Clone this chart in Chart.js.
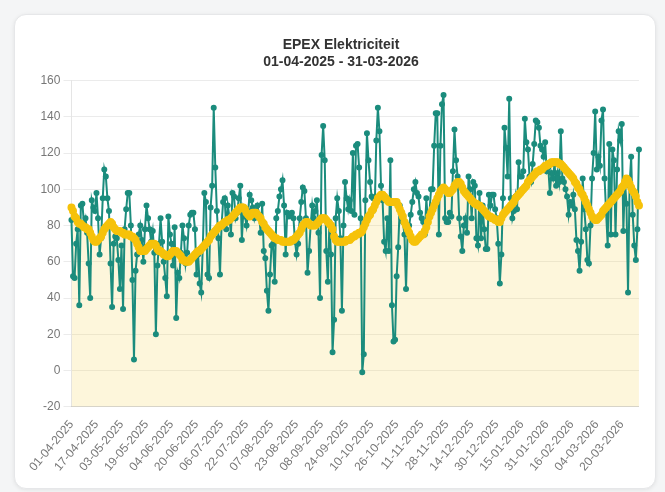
<!DOCTYPE html>
<html>
<head>
<meta charset="utf-8">
<script src="https://cdn.jsdelivr.net/npm/chart.js@4.4.1/dist/chart.umd.min.js"></script>
<style>
  html, body { margin: 0; padding: 0; width: 665px; height: 492px; background: #f4f5f6; overflow: hidden; }
  #card { position: absolute; left: 14px; top: 14px; width: 640px; height: 473px; background: #fff;
          border: 1px solid #e6e7e9; border-radius: 12px; box-shadow: 0 1px 4px rgba(0,0,0,0.08); }
  #wrap { position: absolute; left: 29px; top: 27px; width: 624px; height: 450px; }
</style>
</head>
<body>
<div id="card"></div>
<div id="wrap"><canvas id="c"></canvas></div>
<script>
// Title
const titleLines = ["EPEX Elektriciteit", "01-04-2025 - 31-03-2026"];

// Y axis ticks
const yTicks = { min: -20, max: 160, step: 20 };

// Categories: daily dates 01-04-2025 .. 31-03-2026 (one day absent in the source data)
const startDate = "2025-04-01";
const endDate = "2026-03-31";
const missingDates = ["22-11-2025"];
const labelEvery = 16;

// Daily price (teal)
const dailyPrice = [
  83, 52, 51, 70, 78, 36, 91, 92, 81, 84,
  76, 59, 40, 94, 90, 88, 98, 84, 64, 73,
  95, 111, 107, 95, 88, 59, 35, 70, 74, 73,
  61, 45, 69, 34, 78, 89, 98, 98, 80, 50,
  6, 55, 64, 75, 80, 72, 60, 78, 91, 84,
  78, 71, 77, 65, 20, 58, 70, 84, 71, 60,
  51, 41, 85, 75, 70, 58, 79, 29, 54, 51,
  65, 80, 73, 59, 65, 80, 86, 87, 87, 78,
  53, 64, 48, 43, 68, 98, 93, 53, 51, 90,
  102, 145, 112, 88, 73, 53, 80, 93, 95, 78,
  91, 85, 75, 98, 96, 84, 87, 95, 102, 72,
  89, 85, 80, 88, 97, 94, 90, 84, 88, 91,
  86, 76, 92, 66, 62, 44, 33, 53, 69, 70,
  49, 84, 88, 96, 100, 105, 91, 64, 87, 85,
  86, 87, 84, 71, 64, 70, 84, 93, 101, 99,
  84, 54, 66, 80, 91, 84, 88, 94, 76, 40,
  119, 135, 116, 66, 49, 82, 64, 10, 28, 84,
  95, 88, 73, 33, 80, 104, 95, 89, 94, 88,
  120, 86, 124, 125, 112, 84, -1, 9, 94, 131,
  116, 104, 96, 95, 91, 127, 145, 132, 102, 94,
  71, 66, 84, 66, 116, 36, 16, 17, 52, 68,
  91, 84, 82, 75, 45, 76, 80, 86, 93, 100,
  104, 98, 96, 87, 84, 82, 75, 95, 82, 87,
  100, 100, 124, 142, 142, 75, 124, 147, 152, 84,
  82, 82, 87, 85, 110, 133, 116, 107, 84, 74,
  66, 80, 84, 76, 107, 100, 84, 104, 102, 73,
  69, 98, 73, 91, 78, 67, 67, 97, 91, 97,
  97, 89, 84, 70, 48, 64, 95, 134, 123, 107,
  150, 95, 84, 88, 96, 89, 115, 107, 107, 110,
  139, 126, 122, 107, 104, 114, 125, 138, 137, 134,
  124, 122, 118, 126, 110, 112, 98, 109, 106, 114,
  102, 109, 104, 132, 106, 104, 100, 96, 86, 93,
  91, 97, 89, 72, 66, 55, 71, 106, 89, 78,
  61, 59, 80, 106, 120, 143, 111, 118, 113, 138,
  144, 106, 87, 69, 125, 75, 122, 116, 75, 111,
  132, 127, 136, 77, 105, 92, 43, 102, 118, 86,
  69, 61, 78, 122
];

// Moving average (yellow)
const averagePrice = [
  90, 88, 85, 84, 82, 81, 81, 80, 79, 79,
  78, 78, 76, 74, 72, 71, 71, 72, 73, 74,
  76, 78, 79, 80, 81, 82, 81, 79, 78, 77,
  77, 77, 76, 76, 75, 75, 75, 75, 74, 74,
  73, 72, 70, 68, 66, 66, 66, 66, 67, 68,
  69, 70, 70, 70, 69, 67, 66, 66, 65, 64,
  64, 63, 63, 64, 65, 66, 66, 66, 65, 64,
  63, 61, 61, 60, 60, 60, 61, 62, 63, 64,
  65, 66, 66, 67, 68, 69, 70, 71, 72, 74,
  75, 76, 77, 78, 79, 80, 80, 81, 82, 82,
  83, 83, 84, 85, 86, 87, 88, 89, 90, 90,
  90, 89, 87, 86, 85, 86, 87, 87, 87, 86,
  85, 84, 82, 81, 79, 78, 77, 76, 75, 74,
  73, 73, 72, 72, 72, 71, 71, 71, 71, 71,
  71, 72, 72, 73, 74, 75, 76, 78, 80, 81,
  82, 82, 81, 80, 80, 80, 80, 81, 82, 83,
  84, 84, 84, 83, 82, 81, 80, 78, 74, 72,
  71, 71, 71, 71, 71, 71, 72, 72, 72, 73,
  74, 74, 75, 75, 76, 76, 77, 79, 81, 83,
  85, 86, 88, 89, 91, 93, 95, 96, 97, 97,
  96, 95, 94, 93, 93, 93, 93, 93, 93, 91,
  89, 87, 85, 82, 80, 78, 76, 74, 72, 71,
  71, 72, 73, 74, 75, 75, 77, 79, 82, 85,
  87, 89, 91, 93, 95, 97, 99, 100, 101, 100,
  99, 98, 98, 99, 100, 102, 103, 104, 104, 103,
  101, 99, 98, 97, 96, 95, 94, 93, 92, 92,
  91, 91, 90, 89, 88, 87, 86, 85, 85, 84,
  84, 83, 83, 82, 82, 84, 86, 87, 88, 89,
  90, 91, 92, 93, 95, 96, 97, 98, 99, 100,
  101, 102, 104, 105, 106, 107, 108, 109, 110, 110,
  111, 111, 112, 113, 113, 114, 114, 115, 115, 115,
  115, 115, 114, 114, 113, 112, 111, 110, 109, 108,
  107, 106, 104, 103, 101, 100, 98, 97, 95, 93,
  91, 89, 87, 85, 84, 83, 83, 84, 85, 86,
  88, 89, 90, 91, 92, 93, 94, 95, 96, 97,
  98, 99, 101, 102, 104, 106, 105, 103, 101, 99,
  98, 96, 93, 91
];

function pad(n) { return (n < 10 ? "0" : "") + n; }
function buildLabels() {
  const out = [];
  const d = new Date(startDate + "T00:00:00Z");
  const end = new Date(endDate + "T00:00:00Z");
  while (d <= end) {
    const s = pad(d.getUTCDate()) + "-" + pad(d.getUTCMonth() + 1) + "-" + d.getUTCFullYear();
    if (missingDates.indexOf(s) < 0) out.push(s);
    d.setUTCDate(d.getUTCDate() + 1);
  }
  return out;
}
const labels = buildLabels();

Chart.defaults.font.family = "'Liberation Sans', Arial, Helvetica, sans-serif";
Chart.defaults.font.size = 12;
Chart.defaults.color = '#666';

new Chart(document.getElementById('c'), {
  type: 'line',
  data: {
    labels: labels,
    datasets: [
      {
        label: 'Gemiddelde',
        data: averagePrice,
        borderColor: '#f6c20a',
        backgroundColor: 'rgba(246, 200, 40, 0.17)',
        borderWidth: 4,
        pointRadius: 2,
        pointBackgroundColor: '#f6c20a',
        pointBorderColor: '#f6c20a',
        fill: 'start',
        tension: 0,
        order: 0
      },
      {
        label: 'Prijs',
        data: dailyPrice,
        borderColor: '#1b8c7d',
        backgroundColor: '#1b8c7d',
        borderWidth: 2,
        pointRadius: 2,
        pointBackgroundColor: '#1b8c7d',
        pointBorderColor: '#1b8c7d',
        fill: false,
        tension: 0,
        order: 1
      }
    ]
  },
  options: {
    responsive: true,
    maintainAspectRatio: false,
    animation: false,
    plugins: {
      legend: { display: false },
      tooltip: { enabled: false },
      filler: { drawTime: 'beforeDatasetsDraw' },
      title: {
        display: true,
        text: titleLines,
        color: '#333',
        font: { size: 14, weight: 'bold' },
        padding: { top: 10, bottom: 10 }
      }
    },
    scales: {
      x: {
        grid: { display: false },
        border: { display: true, color: 'rgba(0,0,0,0.1)' },
        ticks: {
          autoSkip: false,
          maxRotation: 50,
          minRotation: 50,
          color: '#777',
          callback: function (v, i) { return i % labelEvery === 0 ? this.getLabelForValue(v) : ''; }
        }
      },
      y: {
        min: yTicks.min,
        max: yTicks.max,
        ticks: { stepSize: yTicks.step, color: '#777' },
        grid: { color: 'rgba(0,0,0,0.08)' },
        border: { color: 'rgba(0,0,0,0.1)' }
      }
    }
  }
});
</script>
</body>
</html>
